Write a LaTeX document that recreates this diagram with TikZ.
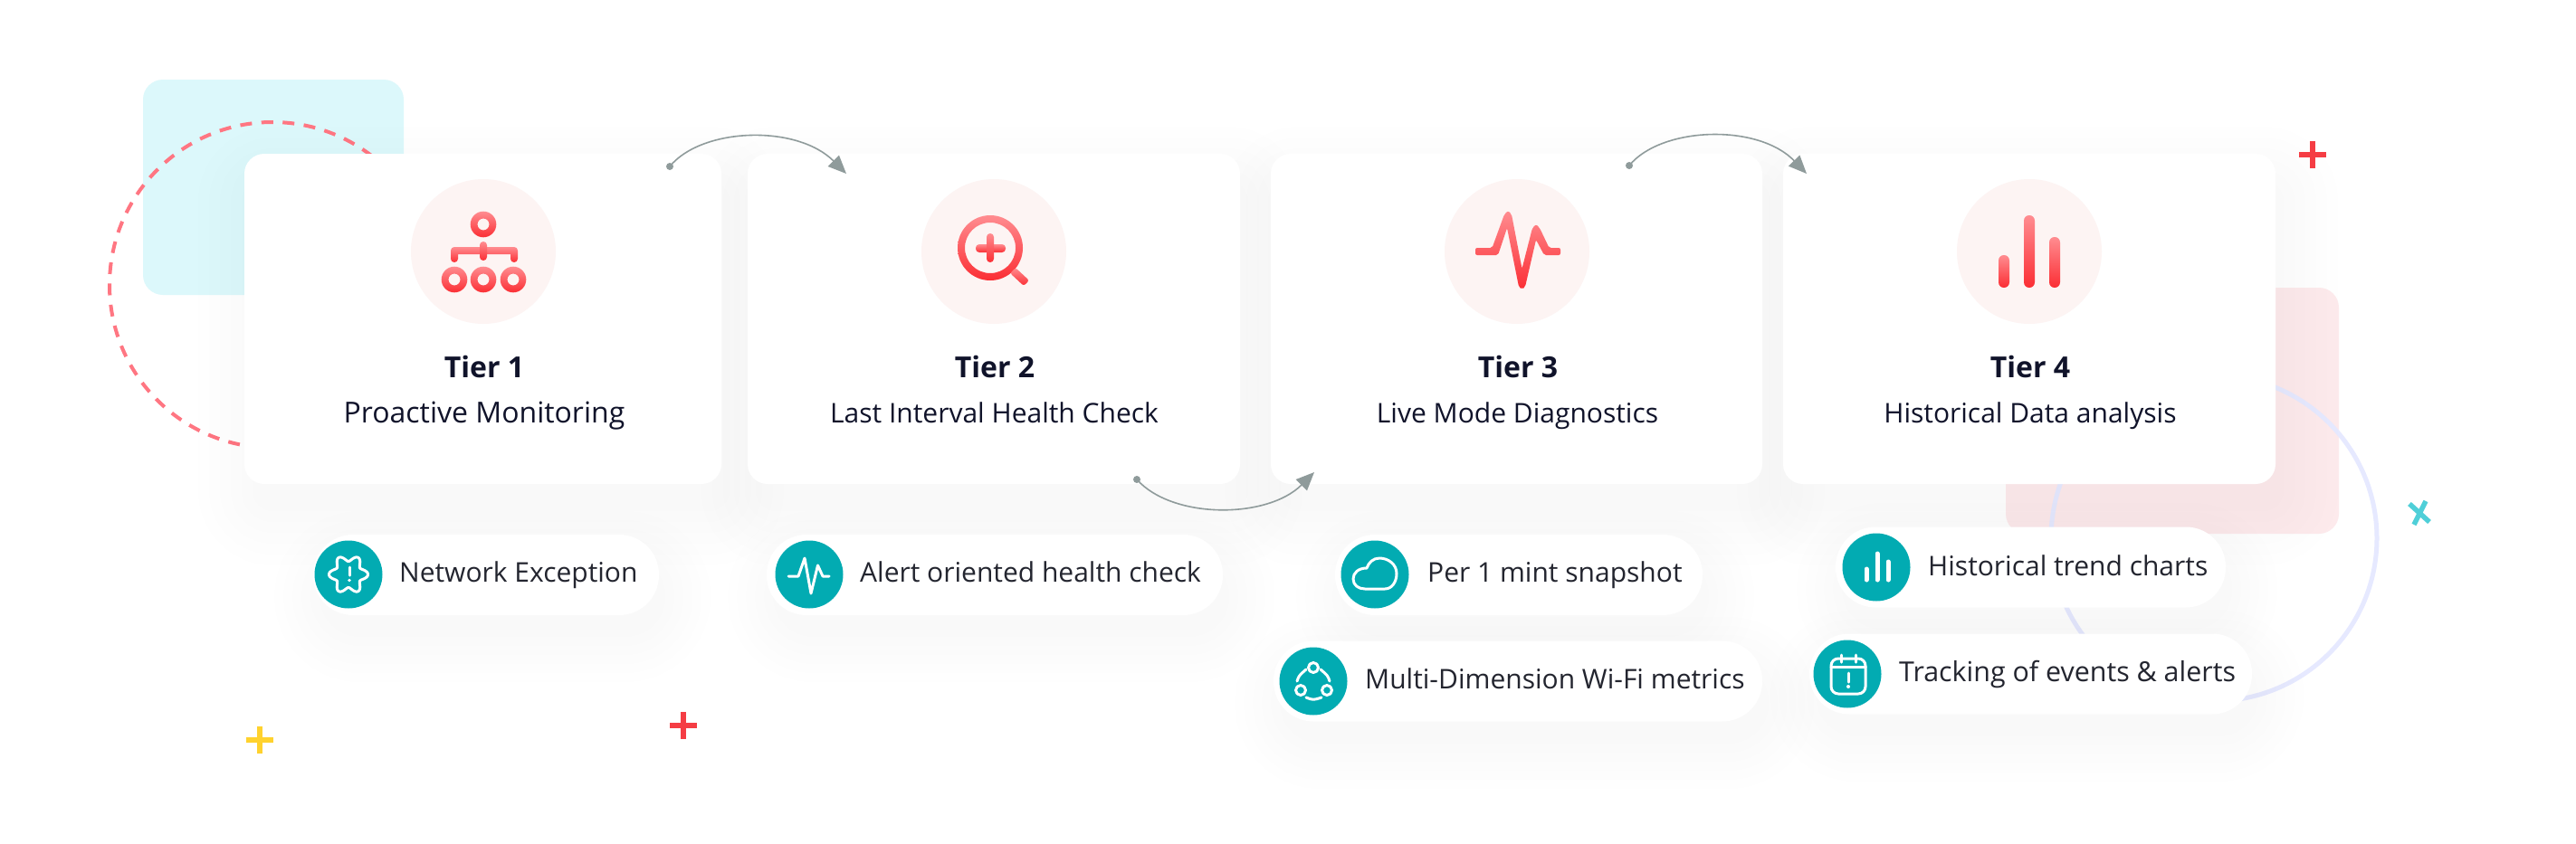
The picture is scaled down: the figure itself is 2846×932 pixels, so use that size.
\documentclass[tikz,border=0pt]{standalone}
\usepackage{fontspec}
\setmainfont{Open Sans}
\usetikzlibrary{arrows.meta}
\definecolor{cyanbg}{HTML}{DCF8FB}
\definecolor{pinkbg}{HTML}{FDEAEC}
\definecolor{dashred}{HTML}{FF7682}
\definecolor{lav}{HTML}{E6E9FF}
\definecolor{halo}{HTML}{FDF4F3}
\definecolor{gradtop}{HTML}{FF8C90}
\definecolor{gradbot}{HTML}{FB2E34}
\definecolor{teal}{HTML}{02ABB2}
\definecolor{arrowgray}{HTML}{8F9B9B}
\definecolor{ink}{HTML}{10132A}
\definecolor{ink2}{HTML}{23252F}
\definecolor{plusred}{HTML}{F53D44}
\definecolor{plusyellow}{HTML}{FFD22E}
\definecolor{pluscyan}{HTML}{4FCFD8}
\newcommand{\softshadow}[7]{%
  \foreach \k in {0,...,5}{%
    \fill[black,opacity=.0045,rounded corners={(#5+\k*#7)*1pt}]
      (#1-\k*#7+#6*.3,#2-\k*#7+#6) rectangle (#3+\k*#7+#6*.3,#4+\k*#7+#6);
  }}
\tikzset{
  x=1pt,y=-1pt,
  card/.style={fill=white,rounded corners=22pt,minimum width=#1,minimum height=365pt,inner sep=0pt},
  pill/.style={fill=white,rounded corners=44pt,minimum width=#1,minimum height=89pt,inner sep=0pt},
  halodisc/.style={circle,fill=halo,minimum size=160pt,inner sep=0pt},
  tealdisc/.style={circle,fill=teal,minimum size=75pt,inner sep=0pt},
  tiertitle/.style={anchor=base,inner sep=0pt,text=ink,font=\fontsize{32}{36}\selectfont\bfseries},
  tiersub/.style={anchor=base,inner sep=0pt,text=ink,font=\fontsize{30}{36}\selectfont},
  pilltext/.style={anchor=base west,inner sep=0pt,text=ink2,font=\fontsize{30}{36}\selectfont},
  redgrad/.style={top color=gradtop,bottom color=gradbot},
  wicon/.style={draw=white,line width=3pt,line cap=round,line join=round},
  flow/.style={draw=arrowgray,line width=1.6pt,-{Triangle[length=20pt,width=17pt]}},
  flowdot/.style={circle,fill=arrowgray,minimum size=8pt,inner sep=0pt},
  plusmark/.style={line width=5.5pt}
}
\begin{document}
\begin{tikzpicture}
\useasboundingbox (0,0) rectangle (2846,932);
\fill[white] (0,0) rectangle (2846,932);
% decorative background
\fill[cyanbg,rounded corners=22pt] (158,88) rectangle (446,326);
\fill[pinkbg,rounded corners=22pt] (2216,318) rectangle (2584,590);
\draw[dashred,line width=4pt,dash pattern=on 13pt off 10.5pt] (301,315) circle[radius=180pt];
\draw[lav,line width=5pt] (2446,595) circle[radius=180pt];
% card shadows
\softshadow{270}{170}{797}{535}{22}{30}{12}
\softshadow{826}{170}{1370}{535}{22}{30}{12}
\softshadow{1404}{170}{1947}{535}{22}{30}{12}
\softshadow{1970}{170}{2514}{535}{22}{30}{12}
% cards
\node[card=527pt] (card1) at (533.5,352.5) {};
\node[card=544pt] (card2) at (1098,352.5) {};
\node[card=543pt] (card3) at (1675.5,352.5) {};
\node[card=544pt] (card4) at (2242,352.5) {};
\node[halodisc] (halo1) at (534,278) {};
\node[halodisc] (halo2) at (1098,278) {};
\node[halodisc] (halo3) at (1676,278) {};
\node[halodisc] (halo4) at (2242,278) {};
% tier 1 icon
\shade[redgrad,even odd rule] (534,248) circle[radius=14.3pt] (534,248) circle[radius=6.5pt];
\shade[redgrad,even odd rule] (502,309) circle[radius=14.3pt] (502,309) circle[radius=6.5pt];
\shade[redgrad,even odd rule] (534,309) circle[radius=14.3pt] (534,309) circle[radius=6.5pt];
\shade[redgrad,even odd rule] (567,309) circle[radius=14.3pt] (567,309) circle[radius=6.5pt];
\shade[redgrad,rounded corners=3.9pt] (498,273) rectangle (506,290) (498,273) rectangle (572,281) (564,273) rectangle (572,290);
\shade[redgrad,rounded corners=3.9pt] (530,267) rectangle (538,288);
% tier 2 icon
\shade[redgrad,even odd rule] (1094,274) circle[radius=36pt] (1094,274) circle[radius=28pt];
\shade[redgrad,rounded corners=3.9pt] (1078,270) rectangle (1111,279);
\shade[redgrad,rounded corners=3.9pt] (1090,258) rectangle (1098,290);
\shade[redgrad,rounded corners=2.5pt] (1122,296) -- (1137,310) -- (1131,316) -- (1116,302) -- cycle;
% tier 3 icon
\shade[redgrad,rounded corners=2pt] (1630,274) -- (1648.5,274) -- (1662,237) -- (1666,233) -- (1670,237)
  -- (1681.5,297) -- (1693,252) -- (1697,248) -- (1701,252) -- (1711.5,274) -- (1724,274) -- (1724,282)
  -- (1706,282) -- (1697,265) -- (1685,317) -- (1681.5,320) -- (1678,317) -- (1665,252) -- (1655,282) -- (1630,282) -- cycle;
% tier 4 icon
\shade[redgrad,rounded corners=5.9pt] (2208,282) rectangle (2220,318);
\shade[redgrad,rounded corners=5.9pt] (2236,238) rectangle (2248,318);
\shade[redgrad,rounded corners=5.9pt] (2264,262) rectangle (2276,318);
% card text
\node[tiertitle] (t1) at (535,417) {Tier 1};
\node[tiersub,font=\fontsize{32}{36}\selectfont] (s1) at (535,467) {Proactive Monitoring};
\node[tiertitle] (t2) at (1099,417) {Tier 2};
\node[tiersub] (s2) at (1098.5,467) {Last Interval Health Check};
\node[tiertitle] (t3) at (1677,417) {Tier 3};
\node[tiersub] (s3) at (1676.5,467) {Live Mode Diagnostics};
\node[tiertitle] (t4) at (2243,417) {Tier 4};
\node[tiersub] (s4) at (2243,467) {Historical Data analysis};
% pill shadows
\softshadow{346}{591}{728}{680}{44}{24}{10}
\softshadow{847}{591}{1351}{680}{44}{24}{10}
\softshadow{1475}{591}{1881}{680}{44}{24}{10}
\softshadow{1407}{708}{1947}{798}{44}{24}{10}
\softshadow{2028}{582}{2459}{672}{44}{24}{10}
\softshadow{1999}{700}{2488}{790}{44}{24}{10}
% pills
\node[pill=382pt] (p1) at (537,635.5) {};
\node[pill=504pt] (p2) at (1099,635.5) {};
\node[pill=406pt] (p3) at (1678,635.5) {};
\node[pill=540pt] (p4) at (1677,753) {};
\node[pill=431pt] (p5) at (2243.5,627) {};
\node[pill=489pt] (p6) at (2243.5,745) {};
\node[tealdisc] (d1) at (385,635) {};
\node[tealdisc] (d2) at (894,635) {};
\node[tealdisc] (d3) at (1519,635) {};
\node[tealdisc] (d4) at (1451,753) {};
\node[tealdisc] (d5) at (2073,627) {};
\node[tealdisc] (d6) at (2041,745) {};
\node[pilltext] (l1) at (441,643) {Network Exception};
\node[pilltext] (l2) at (950,643) {Alert oriented health check};
\node[pilltext] (l3) at (1577,643) {Per 1 mint snapshot};
\node[pilltext] (l4) at (1508,761) {Multi-Dimension Wi-Fi metrics};
\node[pilltext] (l5) at (2130,636) {Historical trend charts};
\node[pilltext,font=\fontsize{30.4}{36}\selectfont] (l6) at (2098,753) {Tracking of events \& alerts};
% pill icons
\draw[wicon] plot[domain=0:360,samples=121,smooth] ({385+(18+3.5*cos(6*\x))*cos(\x)},{635+(18+3.5*cos(6*\x))*sin(\x)}) -- cycle;
\draw[wicon] (386,627) -- (386,636);
\fill[white] (386,641.5) circle[radius=1.8pt];
\draw[wicon] (871,637) -- (882,637) -- (889,617) -- (896,656) -- (903.5,625) -- (909,637) -- (916,637);
\draw[wicon] (1530,651) .. controls (1538,651) and (1543,643) .. (1543,634)
  .. controls (1543,624) and (1534,617) .. (1524,617)
  .. controls (1517,617) and (1512,622) .. (1510,628)
  .. controls (1501,628) and (1495,633) .. (1495,640)
  .. controls (1495,647) and (1501,651) .. (1508,651) -- cycle;
\draw[wicon] (1451,738) circle[radius=5.5pt] (1437,763) circle[radius=5.5pt] (1466,763) circle[radius=5.5pt];
\draw[wicon] (1433,753) .. controls (1435,747) .. (1443,740);
\draw[wicon] (1469,753) .. controls (1467,747) .. (1459,740);
\draw[wicon] (1443,771) .. controls (1451,774) .. (1460,771);
\draw[wicon,line width=5pt] (2062,629) -- (2062,641) (2074,612) -- (2074,641) (2086,621) -- (2086,641);
\draw[wicon,rounded corners=8pt] (2023,728) rectangle (2061,767);
\draw[wicon] (2023,737) -- (2061,737) (2034,724) -- (2034,732) (2050,724) -- (2050,732) (2042,744) -- (2042,754);
\fill[white] (2042,759) circle[radius=2pt];
% connectors
\node[flowdot] (a1) at (740,184) {};
\coordinate (b1) at (935,192);
\node[flowdot] (a2) at (1256,530) {};
\coordinate (b2) at (1452,522);
\node[flowdot] (a3) at (1800,183) {};
\coordinate (b3) at (1996,192);
\draw[flow] (a1.center) .. controls (775,141) and (880,137) .. (b1);
\draw[flow] (a2.center) .. controls (1295,574) and (1400,574) .. (b2);
\draw[flow] (a3.center) .. controls (1835,140) and (1942,136) .. (b3);
% marks
\draw[plusred,plusmark] (2540,171) -- (2570,171) (2555,156) -- (2555,186);
\draw[plusred,plusmark] (740,802) -- (770,802) (755,787) -- (755,817);
\draw[plusyellow,plusmark] (272,818) -- (302,818) (287,803) -- (287,833);
\draw[pluscyan,plusmark] (2662,557) -- (2684,577) (2680,554) -- (2667,580);
\end{tikzpicture}
\end{document}
